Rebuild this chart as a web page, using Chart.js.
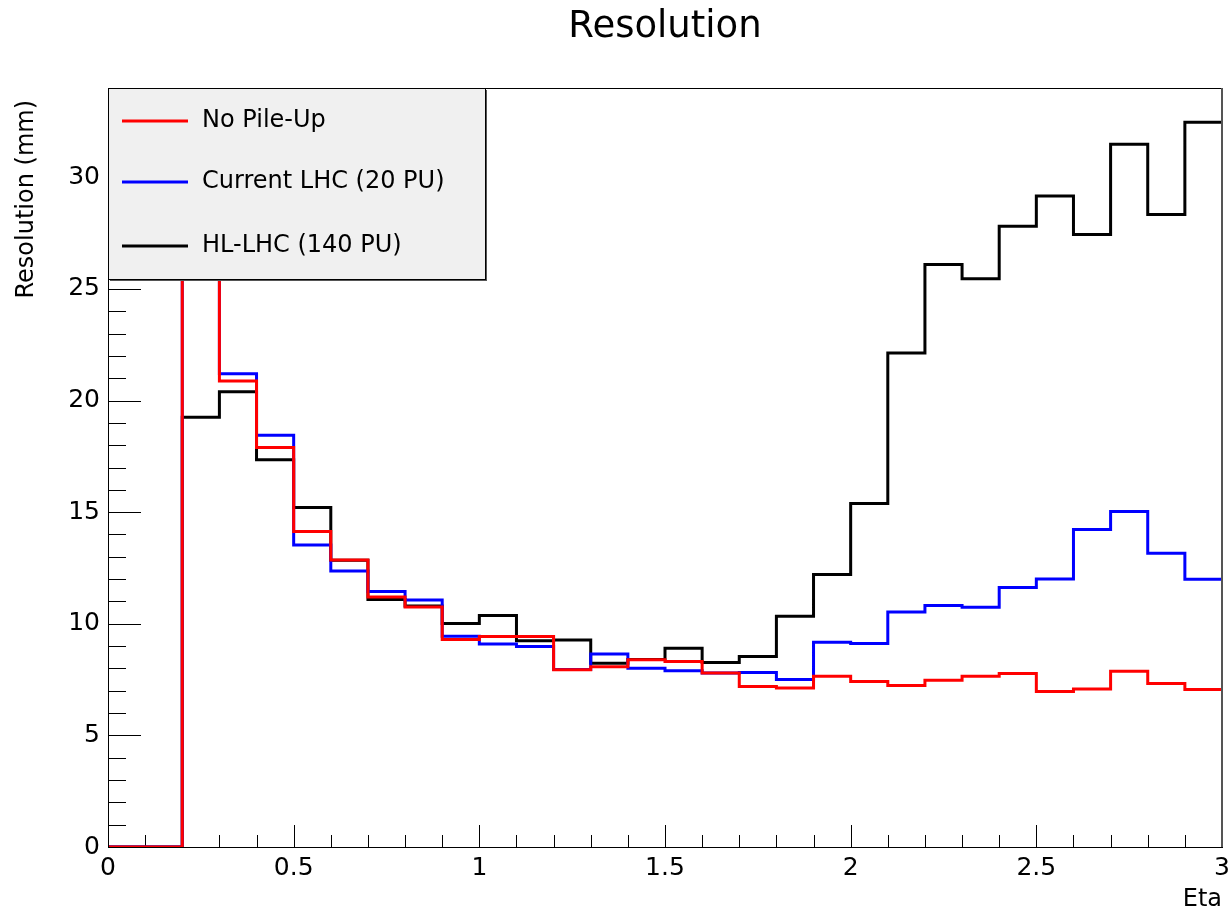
<!DOCTYPE html>
<html>
<head>
<meta charset="utf-8">
<title>Resolution</title>
<script src="https://cdn.jsdelivr.net/npm/chart.js@4.4.1/dist/chart.umd.min.js"></script>
<style>
  html, body { margin: 0; padding: 0; background: #fff; }
  #wrap { width: 1231px; height: 918px; }
</style>
</head>
<body>
<div id="wrap"><canvas id="resChart" width="1231" height="918"></canvas></div>
<script>
// eta bin edges (30 bins of 0.1)
const etaEdges = [0.0, 0.1, 0.2, 0.3, 0.4, 0.5, 0.6, 0.7, 0.8, 0.9,
                  1.0, 1.1, 1.2, 1.3, 1.4, 1.5, 1.6, 1.7, 1.8, 1.9,
                  2.0, 2.1, 2.2, 2.3, 2.4, 2.5, 2.6, 2.7, 2.8, 2.9, 3.0];

// resolution (mm) per bin; the 0.2-0.3 bin goes off the top of the frame
const noPileUp   = [0, 0, 45, 20.87, 17.9, 14.13, 12.86, 11.2, 10.75, 9.3,
                    9.43, 9.43, 7.94, 8.08, 8.39, 8.31, 7.8, 7.19, 7.12, 7.65,
                    7.41, 7.23, 7.47, 7.65, 7.77, 6.97, 7.08, 7.87, 7.32, 7.05];
const currentLHC = [0, 0, 45, 21.2, 18.44, 13.53, 12.36, 11.44, 11.06, 9.44,
                    9.09, 8.98, 7.95, 8.64, 8.01, 7.89, 7.8, 7.82, 7.5, 9.17,
                    9.12, 10.53, 10.82, 10.74, 11.62, 12.0, 14.22, 15.03, 13.16, 11.99];
const hlLHC      = [0, 0, 19.25, 20.39, 17.35, 15.21, 12.85, 11.09, 10.8, 10.01,
                    10.37, 9.24, 9.27, 8.23, 8.4, 8.9, 8.27, 8.53, 10.34, 12.21,
                    15.39, 22.13, 26.09, 25.46, 27.81, 29.16, 27.44, 31.48, 28.33, 32.47];

const seriesNames = ["No Pile-Up", "Current LHC (20 PU)", "HL-LHC (140 PU)"];
const xTicks = [0, 0.5, 1, 1.5, 2, 2.5, 3];
const yTicks = [0, 5, 10, 15, 20, 25, 30];

// step points: each bin value held from its left edge to the next edge
function histPoints(values) {
    return etaEdges.map((e, i) => ({ x: e, y: values[Math.min(i, values.length - 1)] }));
}

const FONT = "'DejaVu Sans', sans-serif";
Chart.defaults.font.family = FONT;
Chart.defaults.color = "#000";

// ROOT style: ticks inside the frame, closed frame, grey legend box
const rootStyle = {
    id: "rootStyle",
    beforeDatasetsDraw(chart) {
        const { ctx, chartArea: a, scales: { x, y } } = chart;
        ctx.save();
        ctx.strokeStyle = "#000";
        ctx.lineWidth = 1;
        ctx.beginPath();
        for (let i = 1; i < 30; i++) {
            const px = Math.round(x.getPixelForValue(i / 10)) + 0.5;
            const len = i % 5 === 0 ? 22 : 12;
            ctx.moveTo(px, a.bottom);
            ctx.lineTo(px, a.bottom - len);
        }
        for (let v = 1; v <= 34; v++) {
            const py = Math.round(y.getPixelForValue(v)) + 0.5;
            const len = v % 5 === 0 ? 33 : 18;
            ctx.moveTo(a.left, py);
            ctx.lineTo(a.left + len, py);
        }
        ctx.stroke();
        ctx.restore();
    },
    afterDatasetsDraw(chart) {
        const { ctx, chartArea: a } = chart;
        ctx.save();
        // frame
        ctx.strokeStyle = "#000";
        ctx.lineWidth = 1;
        ctx.strokeRect(a.left + 0.5, a.top + 0.5, a.right - a.left - 1, a.bottom - a.top);
        ctx.strokeStyle = "#555";
        ctx.lineWidth = 2;
        ctx.beginPath();
        ctx.moveTo(a.right, a.top);
        ctx.lineTo(a.right, a.bottom);
        ctx.stroke();

        // title and y axis title
        ctx.fillStyle = "#000";
        ctx.textAlign = "center";
        ctx.textBaseline = "middle";
        ctx.font = "37px " + FONT;
        ctx.fillText("Resolution", (a.left + a.right) / 2, 27);
        ctx.save();
        ctx.translate(27, a.top + 12);
        ctx.rotate(-Math.PI / 2);
        ctx.textAlign = "right";
        ctx.font = "24px " + FONT;
        ctx.fillText("Resolution (mm)", 0, 0);
        ctx.restore();

        // legend
        const lx = a.left, ly = a.top, lw = 377, lh = 191;
        ctx.fillStyle = "#555";
        ctx.fillRect(lx + 2, ly + 2, lw, lh);
        ctx.fillStyle = "#f0f0f0";
        ctx.fillRect(lx, ly, lw, lh);
        ctx.strokeStyle = "#000";
        ctx.lineWidth = 1;
        ctx.strokeRect(lx + 0.5, ly + 0.5, lw, lh);

        ctx.font = "24px " + FONT;
        ctx.textBaseline = "middle";
        ctx.textAlign = "left";
        const rows = [33, 94, 158];
        chart.data.datasets.forEach((ds, i) => {
            const ry = ly + rows[i];
            ctx.strokeStyle = ds.borderColor;
            ctx.lineWidth = 3;
            ctx.beginPath();
            ctx.moveTo(lx + 14, ry);
            ctx.lineTo(lx + 80, ry);
            ctx.stroke();
            ctx.fillStyle = "#000";
            ctx.fillText(ds.label, lx + 94, ry);
        });
        ctx.restore();
    }
};

const ctx = document.getElementById("resChart").getContext("2d");

new Chart(ctx, {
    type: "line",
    data: {
        datasets: [
            { label: seriesNames[0], data: histPoints(noPileUp), borderColor: "#ff0000" },
            { label: seriesNames[1], data: histPoints(currentLHC), borderColor: "#0000ff" },
            { label: seriesNames[2], data: histPoints(hlLHC), borderColor: "#000000" }
        ].map(d => Object.assign(d, { stepped: true, borderWidth: 3, pointRadius: 0, fill: false }))
    },
    options: {
        responsive: false,
        animation: false,
        layout: { padding: { left: 0, right: 9, top: 88, bottom: 0 } },
        plugins: {
            legend: { display: false },
            tooltip: { enabled: false },
            title: { display: false }
        },
        scales: {
            x: {
                type: "linear",
                min: 0,
                max: 3,
                afterBuildTicks: s => { s.ticks = xTicks.map(v => ({ value: v })); },
                afterFit: s => { s.height = 71; s.paddingLeft = 0; s.paddingRight = 0; },
                ticks: { font: { size: 25 }, padding: 6, maxRotation: 0, callback: v => String(v) },
                grid: { drawOnChartArea: false, drawTicks: false },
                border: { color: "#000", width: 1 },
                title: {
                    display: true, text: "Eta", align: "end",
                    font: { size: 24 }, padding: { top: 0, bottom: 3.6 }
                }
            },
            y: {
                min: 0,
                max: 34,
                afterBuildTicks: s => { s.ticks = yTicks.map(v => ({ value: v })); },
                afterFit: s => { s.width = 108; s.paddingTop = 0; s.paddingBottom = 0; },
                ticks: { font: { size: 25 }, padding: 8, callback: v => String(v) },
                grid: { drawOnChartArea: false, drawTicks: false },
                border: { color: "#000", width: 1 }
            }
        }
    },
    plugins: [rootStyle]
});
</script>
</body>
</html>
